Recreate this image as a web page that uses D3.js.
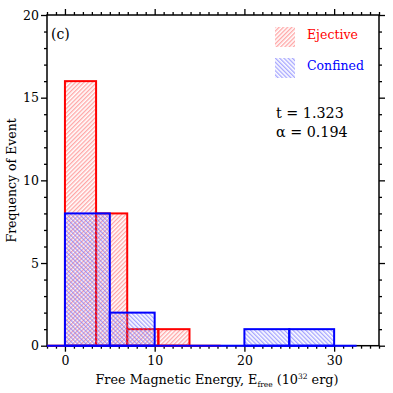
<!DOCTYPE html>
<html><head><meta charset="utf-8">
<script src="https://cdn.jsdelivr.net/npm/d3@7"></script>
<style>body{margin:0;background:#fff}svg{display:block}text{font-family:"DejaVu Serif",serif}</style>
</head><body>
<svg id="c" width="393" height="393"></svg>
<script>
// Data
const ejectiveEdges = [0, 3.47, 6.94, 10.41, 13.88];
const ejectiveCounts = [16, 8, 1, 1];
const confinedEdges = [0, 5, 10, 15, 20, 25, 30];
const confinedCounts = [8, 2, 0, 0, 1, 1];
const xMajorTicks = [0, 10, 20, 30];
const yMajorTicks = [0, 5, 10, 15, 20];
const ejectiveBaseline = [-2, 17.35];
const confinedBaseline = [-2, 32.5];
const statLines = ["t = 1.323", "α = 0.194"];

const svg = d3.select("#c");
const m = {l: 47, r: 379, t: 15, b: 345.7};
const x = d3.scaleLinear().domain([-2, 35]).range([m.l, m.r]);
const y = d3.scaleLinear().domain([0, 20]).range([m.b, m.t]);

const defs = svg.append("defs");
function hatch(id, color, angle) {
  const p = defs.append("pattern").attr("id", id).attr("patternUnits", "userSpaceOnUse")
    .attr("width", 3).attr("height", 3).attr("patternTransform", `rotate(${angle})`);
  p.append("line").attr("x1", 0.75).attr("x2", 0.75).attr("y1", -1).attr("y2", 4)
    .attr("stroke", color).attr("stroke-width", 0.8);
}
hatch("hatchRed", "#ff6a6a", 45);
hatch("hatchBlue", "#6a6aff", -45);

// axes
const minorX = d3.range(-2, 36, 1).filter(v => !xMajorTicks.includes(v));
const minorY = d3.range(0, 21, 1).filter(v => !yMajorTicks.includes(v));
function ax(gen, tr, vals, size, labels) {
  const g = svg.append("g").attr("transform", tr)
    .call(gen.tickValues(vals).tickSize(size).tickSizeOuter(0).tickFormat(labels ? d3.format("d") : ""));
  g.select(".domain").remove();
  g.selectAll(".tick line").attr("stroke", "#000").attr("stroke-width", 1.3);
  g.selectAll("text").attr("font-size", 12.5).attr("fill", "#000");
  return g;
}
ax(d3.axisBottom(x), `translate(0,${m.b})`, xMajorTicks, 6, true).selectAll("text").attr("dy", "1.05em").attr("y", 6);
ax(d3.axisBottom(x), `translate(0,${m.b})`, minorX, 3, false);
ax(d3.axisTop(x), `translate(0,${m.t})`, xMajorTicks, 6, false);
ax(d3.axisTop(x), `translate(0,${m.t})`, minorX, 3, false);
ax(d3.axisLeft(y), `translate(${m.l},0)`, yMajorTicks, 6, true).selectAll("text").attr("x", -8);
ax(d3.axisLeft(y), `translate(${m.l},0)`, minorY, 3, false);
ax(d3.axisRight(y), `translate(${m.r},0)`, yMajorTicks, 6, false);
ax(d3.axisRight(y), `translate(${m.r},0)`, minorY, 3, false);

svg.append("rect").attr("x", m.l).attr("y", m.t).attr("width", m.r - m.l).attr("height", m.b - m.t)
  .attr("fill", "none").attr("stroke", "#000").attr("stroke-width", 1.5);

// bars
function bars(edges, counts, color, pat, base) {
  svg.append("line").attr("x1", x(base[0])).attr("x2", x(base[1])).attr("y1", y(0)).attr("y2", y(0))
    .attr("stroke", color).attr("stroke-width", 2);
  const data = counts.map((c, i) => ({x0: edges[i], x1: edges[i + 1], c})).filter(d => d.c > 0);
  svg.append("g").selectAll("rect").data(data).join("rect")
    .attr("x", d => x(d.x0)).attr("width", d => x(d.x1) - x(d.x0))
    .attr("y", d => y(d.c)).attr("height", d => y(0) - y(d.c))
    .attr("fill", `url(#${pat})`).attr("stroke", color).attr("stroke-width", 2);
}
bars(ejectiveEdges, ejectiveCounts, "#ff0000", "hatchRed", ejectiveBaseline);
bars(confinedEdges, confinedCounts, "#0000ff", "hatchBlue", confinedBaseline);

// labels
svg.append("text").attr("x", 51).attr("y", 39).attr("font-size", 14).attr("fill", "#000").text("(c)");

// legend
[["Ejective", "#ff0000", "hatchRed", 27], ["Confined", "#0000ff", "hatchBlue", 58]].forEach(([t, c, p, yy]) => {
  svg.append("rect").attr("x", 275).attr("y", yy).attr("width", 20).attr("height", 20).attr("fill", `url(#${p})`);
  svg.append("text").attr("x", 307).attr("y", yy + 11.5).attr("font-size", 12.5).attr("fill", c).text(t);
});
statLines.forEach((s, i) => {
  svg.append("text").attr("x", 276).attr("y", 117.7 + i * 19).attr("font-size", 14.3).attr("fill", "#000").text(s);
});

const xl = svg.append("text").attr("x", (m.l + m.r) / 2 + 4).attr("y", 384).attr("text-anchor", "middle")
  .attr("font-size", 12.8).attr("fill", "#000");
xl.append("tspan").text("Free Magnetic Energy, E");
xl.append("tspan").attr("font-size", 7.5).attr("dy", 3).text("free");
xl.append("tspan").attr("dy", -3).text(" (10");
xl.append("tspan").attr("font-size", 7.5).attr("dy", -5).text("32");
xl.append("tspan").attr("dy", 5).text(" erg)");

svg.append("text").attr("transform", `translate(16,${(m.t + m.b) / 2}) rotate(-90)`).attr("text-anchor", "middle")
  .attr("font-size", 12.5).attr("fill", "#000").text("Frequency of Event");
</script>
</body></html>
